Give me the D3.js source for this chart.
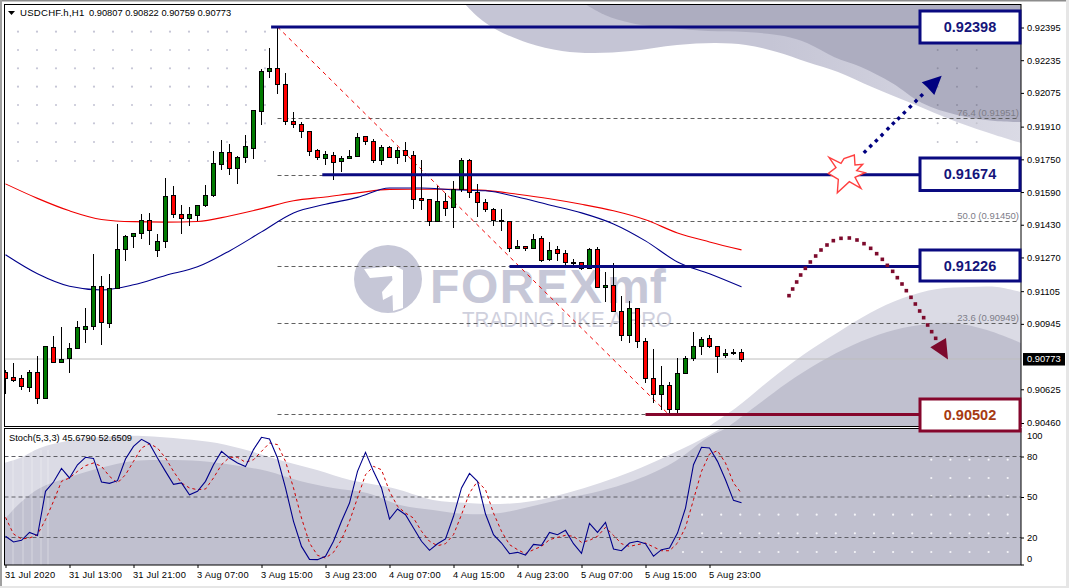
<!DOCTYPE html>
<html><head><meta charset="utf-8">
<script src="https://cdn.jsdelivr.net/npm/d3@7/dist/d3.min.js"></script>
<style>
html,body{margin:0;padding:0;background:#fff;overflow:hidden}
svg{display:block}
text{font-family:"Liberation Sans",Arial,sans-serif}
</style></head><body><div id="c"></div>
<script>
// ---- data: prices in 1e-5 units, bar index 0..92 ----
const opens=[90709,90686,90679,90638,90709,90584,90832,90756,90777,90826,
90922,90932,91129,90951,91120,91308,91372,91389,91452,91308,
91350,91575,91482,91460,91480,91524,91573,91726,91785,91705,
91763,91807,91988,92184,92196,92118,91937,91922,91888,91795,
91754,91770,91739,91754,91763,91863,91839,91746,91809,91759,
91795,91770,91560,91555,91447,91545,91516,91604,91746,91589,
91540,91506,91447,91447,91315,91325,91315,91364,91262,91310,
91291,91245,91247,91217,91310,91125,91134,91007,90890,91022,
90860,90679,90601,90645,90528,90704,90777,90836,90875,90836,
90792,90802,90807];
const highs=[90720,90753,90695,90720,90788,90837,90886,90930,90852,90960,
91023,91287,91180,91190,91434,91380,91389,91483,91488,91385,
91659,91620,91527,91517,91527,91625,91791,91845,91826,91767,
91870,91992,92191,92294,92399,92171,91982,91932,91888,91800,
91790,91785,91765,91796,91879,91865,91850,91819,91817,91809,
91834,91790,91746,91558,91619,91584,91643,91756,91751,91628,
91556,91511,91508,91447,91354,91325,91384,91374,91345,91325,
91306,91262,91247,91315,91320,91198,91242,91081,91056,91025,
90875,90821,90740,90660,90777,90790,90904,90880,90890,90836,
90821,90821,90822];
const lows=[90603,90661,90622,90612,90554,90578,90758,90756,90705,90826,
90852,90916,90842,90925,91120,91253,91317,91361,91331,91273,
91317,91465,91385,91426,91449,91517,91566,91698,91674,91630,
91734,91752,91918,92150,92070,91918,91904,91856,91768,91746,
91723,91651,91690,91754,91760,91821,91734,91724,91760,91729,
91739,91508,91503,91424,91447,91473,91415,91589,91563,91468,
91494,91424,91400,91297,91310,91302,91315,91247,91252,91252,
91234,91234,91208,91213,91125,91051,91002,90863,90851,90826,
90655,90560,90523,90503,90508,90699,90761,90793,90826,90707,
90780,90793,90759];
const closes=[90682,90673,90640,90709,90584,90837,90758,90772,90826,90930,
90935,91129,90951,91120,91310,91374,91389,91452,91405,91350,
91571,91482,91460,91482,91527,91575,91731,91785,91705,91760,
91816,91992,92183,92197,92118,91935,91920,91886,91788,91759,
91775,91736,91756,91765,91858,91839,91744,91809,91760,91795,
91770,91555,91550,91447,91545,91511,91604,91746,91589,91540,
91506,91452,91454,91315,91325,91315,91359,91258,91306,91291,
91247,91247,91217,91310,91125,91134,91007,90890,91022,90860,
90679,90601,90645,90528,90704,90777,90836,90870,90836,90787,
90802,90805,90773];
const maBars=[0,4,8,12,16,20,24,28,32,36,40,44,48,52,56,60,64,68,72,76,80,84,88,92];
const maRed=[91630,91559,91498,91456,91445,91443,91446,91473,91509,91547,91566,91586,91603,91604,91604,91598,91579,91557,91530,91498,91454,91390,91346,91307];
const maBlue=[91283,91190,91129,91111,91136,91182,91224,91302,91395,91488,91530,91564,91610,91610,91601,91596,91566,91527,91488,91434,91351,91248,91190,91126];
const stochK=[20.9,16.7,17.9,23.8,21.4,54.2,61.1,71.2,64.1,73.9,
79.4,78.6,61.1,60.1,62.1,78.1,87.5,92.7,89.5,78.9,
69,59.4,60.4,51.7,54.2,61.6,73.9,83.8,78.9,75.2,
72.5,85.1,94.2,93,78.9,56.7,32,13.4,3.8,3.6,
6.1,17.2,32,45.5,69,83.1,69,56.7,33.7,41.1,
36.9,27,17.2,10.5,15.4,18.9,35.7,56.7,67.5,61.6,
37.4,22.1,15.9,8,9,7,14.9,14.2,23.8,22.1,
25.3,15.4,8.3,30.5,23.8,31.2,11.5,10.2,15.9,17.2,
15.4,6.1,11,12.2,23.3,41.8,73.9,86.8,86.3,76.4,
62.8,47.5,45.68];
const stochD=[34.9,22.6,18.9,19.6,22.1,33.2,46.8,61.6,64.1,69,
73.2,75.2,72.7,65.3,60.4,66.5,76.4,86.3,89.5,86.3,
78.9,69,60.4,56.7,55.4,55.9,64.1,73.9,79.4,79.4,
75.7,77.6,83.8,90,88.8,76.4,56.7,34.4,15.9,6.8,
4.8,9,18.4,32,49.3,66.5,72.7,70.2,54.2,43.1,
38.1,34.4,24.6,17.2,13.9,15.4,22.1,36.9,53,61.6,
55.4,38.1,24.6,14.7,11,8,11,13.4,18.4,20.1,
21.6,20.9,16.4,17.9,20.9,27.5,21.6,15.4,13.4,14.7,
15.9,13,10.2,10.2,15.9,27.5,48,69,81.8,84.3,
75.2,60.4,52.65];
const priceTicks=[0.92395,0.92235,0.92075,0.91910,0.91750,0.91590,0.91430,0.91270,0.91105,0.90945,0.90625,0.90460];
const stochTicks=[100,80,50,20,0];
const stochLevels=[80,50,20];
const timeBars=[0,8,16,24,32,40,48,56,64,72,80,88];
const timeLabels=["31 Jul 2020","31 Jul 13:00","31 Jul 21:00","3 Aug 07:00","3 Aug 15:00","3 Aug 23:00","4 Aug 07:00","4 Aug 15:00","4 Aug 23:00","5 Aug 07:00","5 Aug 15:00","5 Aug 23:00"];
const fibPrices=[0.92398,0.91951,0.91674,0.91450,0.91226,0.90949,0.90502];
const fibCaptions=[["76.4 (0.91951)",0.91951],["50.0 (0.91450)",0.91450],["23.6 (0.90949)",0.90949]];
const levelPrices=[0.92398,0.91674,0.91226,0.90502];
const levelStartBars=[33.2,39.6,63,80];
const lastPrice=0.90773;

// ---- layout ----
const W=1069,H=588,L=4.5,R=1021,MT=4.5,MB=426.5,ST=428.5,SB=565;
const NAVY="#0a0a80",WINE="#85062c",SH1="#c5c5d5",SH2="#dbdbe5",SD="#c0c0cf",TOPD="#adadc0";
const svg=d3.select("#c").append("svg").attr("width",W).attr("height",H);
const x=d3.scaleLinear().domain([0,92]).range([5.5,741.5]);
const y=d3.scaleLinear().domain([0.90460,0.92395]).range([423,27.5]);
const ys=d3.scaleLinear().domain([0,100]).range([564.5,429.5]);
const defs=svg.append("defs");
defs.append("clipPath").attr("id","cm").append("rect").attr("x",L).attr("y",MT).attr("width",R-L).attr("height",MB-MT);
defs.append("clipPath").attr("id","cs").append("rect").attr("x",L).attr("y",ST).attr("width",R-L).attr("height",SB-ST);
const g0=defs.append("linearGradient").attr("id","band").attr("x1",0).attr("x2",1).attr("y1",0).attr("y2",0);
g0.append("stop").attr("offset","55%").attr("stop-color","#c5c5d5");
g0.append("stop").attr("offset","100%").attr("stop-color","#dadae5");

// window edges
svg.append("rect").attr("width",W).attr("height",1.5).attr("fill","#8c8c8c");
svg.append("rect").attr("width",2).attr("height",H).attr("fill","#a0a0a0");
svg.append("rect").attr("x",W-3).attr("width",3).attr("height",H).attr("fill","#e6e6e6");
svg.append("rect").attr("y",H-2).attr("width",W).attr("height",2).attr("fill","#e6e6e6");

// background artwork (pixel decoration, not data)
const mainBg=svg.append("g").attr("clip-path","url(#cm)");
const smooth=d3.line().curve(d3.curveCatmullRom.alpha(.5));
const closed=(pts,tail)=>smooth(pts)+tail;
const bandEdge=[[465,4],[478,17],[497,30],[528,43],[562,51],[593,53],[631,51],[677,45],[716,43],[746,45],[777,52],[807,62],[838,72],[872,87],[911,103],[957,122],[995,135],[1021,143]];
const darkEdge=[[585,4],[605,15],[631,23],[670,28],[708,31],[746,32],[784,36],[807,43],[834,57],[861,67],[892,83],[922,103],[957,115],[995,121],[1021,122]];
mainBg.append("path").attr("d",closed(bandEdge,"L1021,4Z")).attr("fill","url(#band)");
mainBg.append("path").attr("d",closed(darkEdge,"L1021,4Z")).attr("fill",TOPD);
const hillL=[[708,427],[737,407],[770,380],[803,355],[837,333],[870,313],[903,298],[937,289],[970,287],[997,287],[1021,292]];
const hillD=[[728,427],[760,403],[787,383],[820,362],[853,345],[887,332],[920,325],[953,323],[987,330],[1021,343]];
mainBg.append("path").attr("d",closed(hillL,"L1021,427Z")).attr("fill",SH2);
mainBg.append("path").attr("d",closed(hillD,"L1021,427Z")).attr("fill",SD);

// dot lattices
const dots=(g,xs,ys2,fill,r)=>{xs.forEach(a=>ys2.forEach(b=>g.append("circle").attr("cx",a).attr("cy",b).attr("r",r).attr("fill",fill)));};
dots(mainBg,d3.range(0,14).map(k=>18+k*19),[31.7,50,68.3,86.7,105,123.3,142,161],"#c6c6d6",1.1);
dots(mainBg,[937.7,957,976.7],[50,68.3,86.7,105],"#8f8fa3",1);
dots(mainBg,[937.7,957,976.7],[123.3,142],"#c2c2cd",1);

// watermark logo
const logo=svg.append("g").attr("clip-path","url(#cm)");
logo.append("circle").attr("cx",388).attr("cy",279).attr("r",34).attr("fill","#c6c7d7");
logo.append("path").attr("fill","#fff").attr("d",d3.line()([[364,269],[395,266],[403,270],[403,308],[393,311],[392.5,295],[383,300],[382,292],[392.5,280],[392,276],[370,278]])+"Z");
logo.append("text").attr("x",430).attr("y",303).attr("font-size",48).attr("font-weight",700).attr("fill","#c6c7d7").attr("letter-spacing",1.6).text("FOREX");
logo.append("text").attr("x",607).attr("y",303).attr("font-size",48).attr("font-weight",700).attr("fill","#c6c7d7").text("mf");
logo.append("text").attr("x",462).attr("y",327).attr("font-size",22).attr("fill","#cfd0dd").attr("textLength",210).attr("lengthAdjust","spacingAndGlyphs").text("TRADING LIKE A PRO");

// stochastic background
const stBg=svg.append("g").attr("clip-path","url(#cs)");
const sLight=[[4,463],[20,458],[40,448],[67,441],[100,437],[143,436],[183,439],[217,443],[250,451],[283,461],[317,470],[350,480],[383,486],[400,490],[433,500],[467,503],[500,504],[533,501],[567,493],[600,483],[633,471],[667,456],[700,440],[723,427]];
const sDark=[[4,520],[20,503],[40,488],[67,478],[100,468],[133,461],[167,460],[200,461],[233,465],[267,471],[300,481],[333,488],[367,493],[400,505],[433,510],[467,514],[500,513],[533,506],[567,498],[600,491],[633,481],[667,466],[683,456],[707,438],[729,427]];
stBg.append("path").attr("d",closed(sLight,"L1021,427L1021,566L4,566Z")).attr("fill",SH2);
stBg.append("path").attr("d",closed(sDark,"L1021,427L1021,566L4,566Z")).attr("fill",SD);
[13,23,32,41,48].forEach(a=>stBg.append("line").attr("x1",a).attr("x2",a).attr("y1",450).attr("y2",565).attr("stroke","#fff").attr("stroke-opacity",.35));
const dotCols=d3.range(0,18).map(k=>683+k*19.1);
dots(stBg,dotCols.slice(13),[459.7,478,496],"#f4f4f8",1.1);
dots(stBg,dotCols.slice(1),[514.7,533.3],"#f4f4f8",1.1);
dots(stBg,dotCols,[552],"#f4f4f8",1.1);

// main panel content
const main=svg.append("g").attr("clip-path","url(#cm)");
main.append("line").attr("x1",L).attr("x2",R).attr("y1",y(lastPrice)).attr("y2",y(lastPrice)).attr("stroke","#bdbdbd");
main.selectAll("line.fib").data(fibPrices).join("line").attr("class","fib")
 .attr("x1",x(34)).attr("x2",1019).attr("y1",d=>Math.round(y(d))+.5).attr("y2",d=>Math.round(y(d))+.5)
 .attr("stroke","#606060").attr("stroke-dasharray","4 3");
main.selectAll("text.fc").data(fibCaptions).join("text").attr("class","fc").attr("x",1019).attr("y",d=>y(d[1])-2)
 .attr("text-anchor","end").attr("font-size",9.5).attr("fill","#7d7d88").text(d=>d[0]);
const idx=d3.range(opens.length);
const P=v=>v/1e5;
const maLine=d3.line().x((d,i)=>x(maBars[i])).y(d=>y(P(d))).curve(d3.curveMonotoneX);
main.append("path").attr("d",maLine(maRed)).attr("fill","none").attr("stroke","#f00000").attr("stroke-width",1.1);
main.append("path").attr("d",maLine(maBlue)).attr("fill","none").attr("stroke","#00008b").attr("stroke-width",1.1);
// fib trendline
main.append("line").attr("x1",x(34)).attr("y1",y(fibPrices[0])).attr("x2",x(82.9)).attr("y2",y(fibPrices[6]))
 .attr("stroke","#f00000").attr("stroke-dasharray","4 4");
// candles
const candles=main.append("g");
candles.selectAll("line").data(idx).join("line")
 .attr("x1",i=>x(i)).attr("x2",i=>x(i)).attr("y1",i=>y(P(highs[i]))).attr("y2",i=>y(P(lows[i])))
 .attr("stroke","#000").attr("shape-rendering","crispEdges");
candles.selectAll("rect").data(idx).join("rect")
 .attr("x",i=>x(i)-2).attr("width",4)
 .attr("y",i=>Math.round(y(P(Math.max(opens[i],closes[i]))))+.5)
 .attr("height",i=>Math.max(1,Math.round(Math.abs(y(P(opens[i]))-y(P(closes[i]))))))
 .attr("fill",i=>closes[i]>=opens[i]?"#007a00":"#ff0000").attr("stroke","#000").attr("shape-rendering","crispEdges");
// level lines
main.selectAll("line.lvl").data(levelPrices).join("line").attr("class","lvl")
 .attr("x1",(d,i)=>x(levelStartBars[i])).attr("x2",920).attr("y1",d=>y(d)).attr("y2",d=>y(d))
 .attr("stroke",(d,i)=>i==3?WINE:NAVY).attr("stroke-width",3);

// stochastic
const st=svg.append("g").attr("clip-path","url(#cs)");
st.selectAll("line").data(stochLevels).join("line").attr("x1",L).attr("x2",R).attr("y1",d=>ys(d)).attr("y2",d=>ys(d))
 .attr("stroke","#5f5f66").attr("stroke-dasharray","4 3");
const sLine=d3.line().x((d,i)=>x(i)).y(d=>ys(d));
st.append("path").attr("d",sLine(stochD)).attr("fill","none").attr("stroke","#d00000").attr("stroke-dasharray","3 3");
st.append("path").attr("d",sLine(stochK)).attr("fill","none").attr("stroke","#00008b").attr("stroke-width",1.1);

// frames
[[MT,MB],[ST,SB]].forEach(([a,b])=>svg.append("rect").attr("x",L).attr("y",a).attr("width",R-L).attr("height",b-a).attr("fill","none").attr("stroke","#000"));

// axes
const styleAxis=g=>{g.select(".domain").remove();g.selectAll("line").attr("stroke","#000");g.selectAll("text").attr("font-size",9.3).attr("fill","#000").attr("font-family",'"Liberation Sans"');};
svg.append("g").attr("transform",`translate(${R},0)`).call(d3.axisRight(y).tickValues(priceTicks).tickFormat(d3.format(".5f")).tickSize(3).tickPadding(3)).call(styleAxis);
const sAxis=svg.append("g").attr("transform",`translate(${R},0)`).call(d3.axisRight(ys).tickValues(stochTicks).tickFormat(d3.format("d")).tickSize(3).tickPadding(3)).call(styleAxis);
sAxis.selectAll(".tick").filter(d=>d==100).select("text").attr("dy","0.85em").attr("y",0).attr("transform","translate(0,1)");
sAxis.selectAll(".tick").filter(d=>d==100).select("line").remove();
sAxis.selectAll(".tick").filter(d=>d==0).select("text").attr("transform","translate(0,-6)");
const tAxis=svg.append("g").attr("transform",`translate(0,${SB})`).call(d3.axisBottom(x).tickValues(timeBars).tickFormat((d,i)=>timeLabels[i]).tickSize(3).tickPadding(3)).call(styleAxis);
tAxis.selectAll("text").attr("text-anchor","start").attr("letter-spacing",.2).attr("dx",-1);

// last price tag
svg.append("rect").attr("x",1023).attr("y",y(lastPrice)-6).attr("width",42).attr("height",12.5).attr("fill","#000");
svg.append("text").attr("x",1027).attr("y",y(lastPrice)+3.4).attr("font-size",9.3).attr("fill","#fff").text(d3.format(".5f")(lastPrice));

// headers
svg.append("path").attr("d",d3.line()([[8,11],[15,11],[11.5,15]])+"Z").attr("fill","#000");
svg.append("text").attr("x",20).attr("y",16).attr("font-size",9.6).attr("fill","#000").attr("letter-spacing",.25).text("USDCHF.h,H1");
svg.append("text").attr("x",89).attr("y",16).attr("font-size",9.3).attr("fill","#000").text("0.90807 0.90822 0.90759 0.90773");
svg.append("text").attr("x",9).attr("y",441).attr("font-size",9.3).attr("fill","#000").text("Stoch(5,3,3) 45.6790 52.6509");

// annotations (pixel decoration)
const starPts=[[207,472],[243,490],[252,476],[283,465],[285,495],[308,493],[290,512],[315,518],[285,532],[303,565],[268,545],[232,578],[235,538],[205,520],[228,503]].map(p=>[760+p[0]/3,p[1]/3]);
svg.append("path").attr("d",d3.line()(starPts)+"Z").attr("fill","#fff").attr("stroke","#ff4040").attr("stroke-width",1.4);
const square=(g,pts,fill,s,rot)=>g.selectAll("rect").data(pts).join("rect").attr("x",d=>d[0]-s/2).attr("y",d=>d[1]-s/2).attr("width",s).attr("height",s).attr("fill",fill)
  .attr("transform",d=>rot?`rotate(45 ${d[0]} ${d[1]})`:null);
const blueDots=[[315,455],[332,438],[349,422],[366,405],[384,386],[400,370],[416,355],[433,338],[451,320],[468,303],[485,286]].map(p=>[760+p[0]/3,p[1]/3]);
square(svg.append("g"),blueDots,"#000080",3.4,true);
svg.append("path").attr("fill","#000080").attr("d",d3.line()([[941.7,75.7],[921.7,82.3],[927,87],[934.3,95]])+"Z");
const redDots=[[87,227],[98,207],[110,186],[122,165],[136,145],[151,126],[167,108],[183,90],[201,75],[220,62],[243,55],[268,54],[291,60],[312,71],[332,85],[350,101],[367,118],[382,136],[398,154],[412,173],[426,192],[439,212],[453,232],[466,252],[479,273],[491,293],[503,315],[515,335],[527,355]].map(p=>[760+p[0]/3,220+p[1]/3]);
square(svg.append("g"),redDots,"#7d0a2c",3.6,false);
svg.append("path").attr("fill","#7d0a2c").attr("d",d3.line()([[948,359.5],[930.3,347.3],[946,338]])+"Z");

// value boxes
const boxes=[[0.92398,11,43,NAVY,"#14147a"],[0.91674,158,190.5,NAVY,"#14147a"],[0.91226,250,281,NAVY,"#14147a"],[0.90502,399,431,WINE,"#a63a12"]];
boxes.forEach(([v,a,b,c,t])=>{
 svg.append("rect").attr("x",920).attr("y",a).attr("width",100).attr("height",b-a).attr("fill","#fff").attr("stroke",c).attr("stroke-width",3);
 svg.append("text").attr("x",970).attr("y",(a+b)/2+5.2).attr("text-anchor","middle").attr("font-size",14.5).attr("font-weight",700).attr("fill",t).text(d3.format(".5f")(v));
});
</script></body></html>
